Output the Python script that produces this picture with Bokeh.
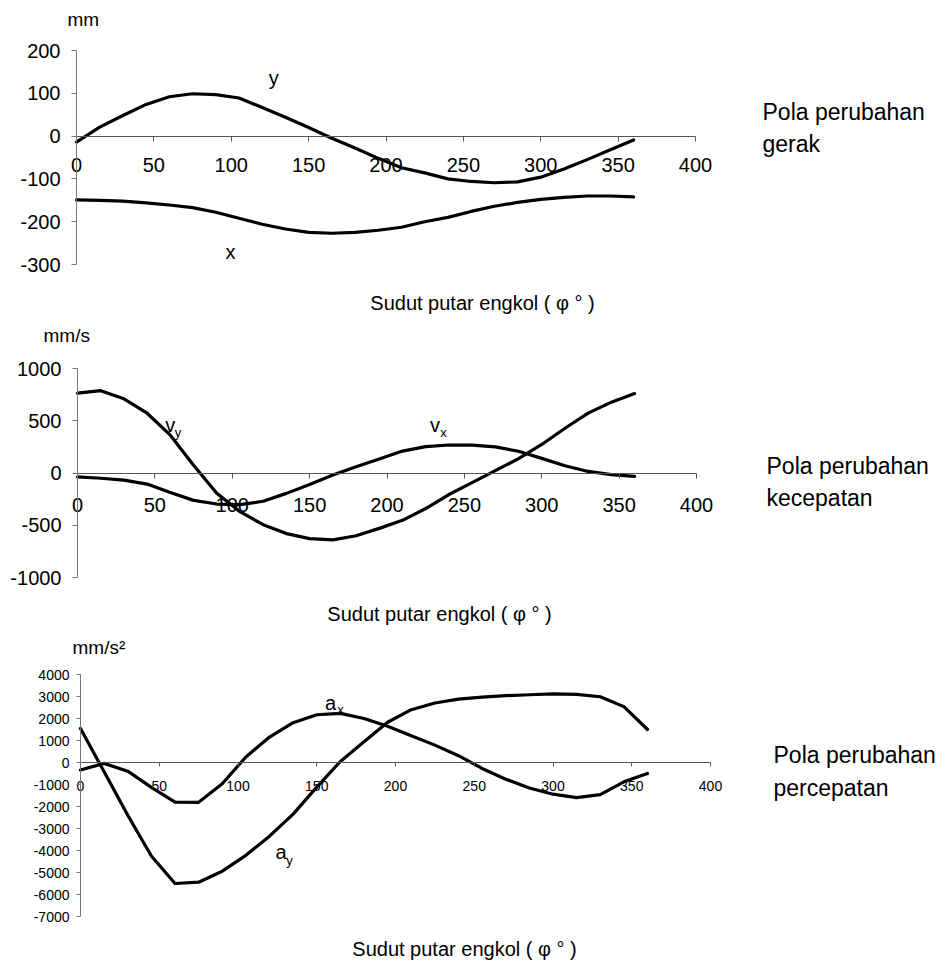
from bokeh.plotting import figure
from bokeh.models import Range1d, FixedTicker, Label
from bokeh.layouts import column
from bokeh.embed import file_html
from bokeh.resources import INLINE

# ---------------- data ----------------
phi = [0, 15, 30, 45, 60, 75, 90, 105, 120, 135, 150, 165, 180,
       195, 210, 225, 240, 255, 270, 285, 300, 315, 330, 345, 360]

# displacement (mm)
disp_y = [-14, 21, 48, 74, 92, 99, 97, 89, 67, 44, 20, -5, -28,
          -52, -74, -86, -100, -106, -109, -107, -96, -77, -55, -32, -9]
disp_x = [-149, -150, -152, -156, -161, -167, -178, -192, -206, -217, -225, -227, -225,
          -220, -213, -200, -190, -176, -164, -155, -148, -143, -140, -140, -142]

# velocity (mm/s)
vel_y = [765, 788, 710, 572, 362, 74, -193, -370, -495, -580, -628, -640, -600,
         -530, -453, -340, -206, -92, 23, 137, 273, 428, 573, 678, 760]
vel_x = [-38, -50, -68, -106, -186, -262, -297, -303, -270, -195, -110, -20, 60,
         134, 210, 252, 268, 266, 250, 208, 140, 70, 15, -16, -32]

# acceleration (mm/s^2)
acc_x = [-340, -40, -394, -1130, -1800, -1810, -965, 253, 1155, 1810, 2170, 2235, 2000,
         1650, 1220, 790, 310, -270, -760, -1160, -1440, -1600, -1460, -880, -500]
acc_y = [1550, -425, -2400, -4250, -5500, -5440, -4940, -4220, -3350, -2346, -1120, 46, 943,
         1830, 2400, 2705, 2880, 2970, 3040, 3080, 3115, 3100, 2990, 2540, 1500]

x_ticks = [0, 50, 100, 150, 200, 250, 300, 350, 400]
y_ticks_disp = [-300, -200, -100, 0, 100, 200]
y_ticks_vel = [-1000, -500, 0, 500, 1000]
y_ticks_acc = [-7000, -6000, -5000, -4000, -3000, -2000, -1000, 0, 1000, 2000, 3000, 4000]

units = ["mm", "mm/s", "mm/s\u00b2"]
axis_title = "Sudut putar engkol ( \u03c6 \u00b0 )"
side_texts = [["Pola perubahan", "gerak"],
              ["Pola perubahan", "kecepatan"],
              ["Pola perubahan", "percepatan"]]

FONT = "Liberation Sans"
W = 945


def make_fig(H, left, top, fw, fh, yr, yt, tick_size, xstand, ystand, tick_out):
    """Plot area occupies the whole canvas; the axes sit at x=0 / y=0."""
    xr = (0, 400)
    sx = fw / (xr[1] - xr[0])
    sy = fh / (yr[1] - yr[0])
    bottom = H - top - fh
    x0 = xr[0] - left / sx
    x1 = xr[1] + (W - left - fw) / sx
    y1 = yr[1] + top / sy
    y0 = yr[0] - bottom / sy
    p = figure(width=W, height=H, frame_width=W, frame_height=H,
               x_range=Range1d(x0, x1), y_range=Range1d(y0, y1),
               output_backend="svg", toolbar_location=None, min_border=0)
    p.outline_line_color = None
    p.xgrid.visible = False
    p.ygrid.visible = False
    p.background_fill_color = "white"
    p.border_fill_color = "white"

    xa = p.xaxis[0]
    xa.fixed_location = 0
    xa.bounds = xr
    xa.ticker = FixedTicker(ticks=x_ticks)
    xa.major_label_overrides = {t: str(t) for t in x_ticks}
    xa.minor_tick_line_color = None
    xa.major_tick_out = tick_out
    xa.major_tick_in = 0
    xa.major_label_standoff = xstand
    xa.major_label_text_font = FONT
    xa.major_label_text_font_size = f"{tick_size}px"
    xa.major_label_text_color = "black"
    xa.axis_line_color = "#555555"
    xa.major_tick_line_color = "#555555"

    ya = p.yaxis[0]
    ya.fixed_location = 0
    ya.bounds = yr
    ya.ticker = FixedTicker(ticks=yt)
    ya.major_label_overrides = {t: str(t) for t in yt}
    ya.minor_tick_line_color = None
    ya.major_tick_out = tick_out
    ya.major_tick_in = 0
    ya.major_label_standoff = ystand
    ya.major_label_text_font = FONT
    ya.major_label_text_font_size = f"{tick_size}px"
    ya.major_label_text_color = "black"
    ya.axis_line_color = "#777777"
    ya.major_tick_line_color = "#777777"
    p._anchor = (left, bottom)
    return p


def txt(p, s, x, y, size, align="left", unit="screen"):
    if unit == "screen":  # offsets measured from the plot area's lower-left corner
        x = p._anchor[0] + x
        y = p._anchor[1] + y
    p.add_layout(Label(x=x, y=y, x_units=unit, y_units=unit, text=s,
                       text_font=FONT, text_font_size=f"{size}px",
                       text_align=align, text_baseline="middle",
                       text_color="black"))


def curve(p, ys):
    p.line(phi, ys, line_width=3.2, line_color="black", line_join="round", line_cap="round")


# ---------------- chart 1 : displacement ----------------
p1 = make_fig(318, 76, 50, 619, 214, (-300, 200), y_ticks_disp, 20, 17, 11, 5)
curve(p1, disp_y)
curve(p1, disp_x)
txt(p1, "y", 127.5, 136, 20, "center", "data")
txt(p1, "x", 99.5, -271, 20, "center", "data")
txt(p1, units[0], -9, 245, 19)
txt(p1, axis_title, 406, -38, 20, "center")
txt(p1, side_texts[0][0], 686, 153, 23)
txt(p1, side_texts[0][1], 686, 121, 23)

# ---------------- chart 2 : velocity ----------------
p2 = make_fig(310, 77, 50, 619, 209, (-1000, 1000), y_ticks_vel, 20, 20, 11, 5)
curve(p2, vel_y)
curve(p2, vel_x)
txt(p2, "v", 60, 462, 20, "center", "data")
txt(p2, "y", 65, 383, 13, "center", "data")
txt(p2, "v", 231, 462, 20, "center", "data")
txt(p2, "x", 236.5, 383, 13, "center", "data")
txt(p2, units[1], -34, 242, 19)
txt(p2, axis_title, 362, -36, 20, "center")
txt(p2, side_texts[1][0], 689, 112, 23)
txt(p2, side_texts[1][1], 689, 80, 23)

# ---------------- chart 3 : acceleration ----------------
p3 = make_fig(333, 80, 46, 630, 242, (-7000, 4000), y_ticks_acc, 14, 14, 7, 4)
curve(p3, acc_x)
curve(p3, acc_y)
txt(p3, "a", 158.7, 2694, 20, "center", "data")
txt(p3, "x", 165, 2390, 13, "center", "data")
txt(p3, "a", 127.4, -4060, 20, "center", "data")
txt(p3, "y", 132.7, -4438, 13, "center", "data")
txt(p3, units[2], -8, 269, 19)
txt(p3, axis_title, 384, -32, 20, "center")
txt(p3, side_texts[2][0], 693, 162, 23)
txt(p3, side_texts[2][1], 693, 129, 23)

layout = column(p1, p2, p3, spacing=0)
open("out.html", "w").write(file_html(layout, INLINE))
